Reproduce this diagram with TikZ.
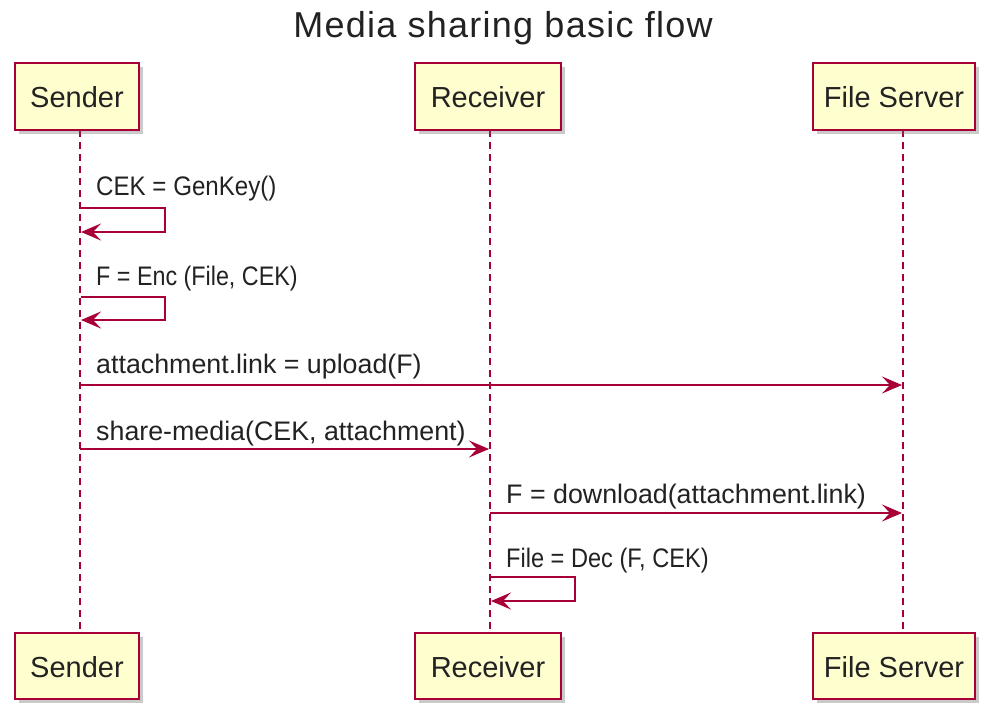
\documentclass[tikz,border=0pt]{standalone}
\usepackage{fontspec}
\setmainfont{Liberation Sans}
\usetikzlibrary{arrows.meta,shadows}
\definecolor{puml}{HTML}{A80036}
\definecolor{pfill}{HTML}{FEFECE}
\definecolor{ptext}{HTML}{222222}
\tikzset{
  actorbox/.style={draw=puml, fill=pfill, line width=1.8pt, rectangle, inner sep=0pt,
    drop shadow={shadow xshift=4pt, shadow yshift=-4pt, opacity=0.35, fill=black!60}},
  actortext/.style={font=\fontsize{29}{31}\selectfont, text=ptext},
  lifeline/.style={draw=puml, line width=1.3pt, dash pattern=on 7pt off 5pt},
  msg/.style={draw=puml, line width=2pt, -{Stealth[length=20pt,width=17pt,inset=8pt]}},
  msgtext/.style={font=\fontsize{26.8}{28}\selectfont, text=ptext, anchor=base west, inner sep=0pt},
  selftext/.style={msgtext},
}
\begin{document}
\begin{tikzpicture}[x=1pt,y=-1pt]
\useasboundingbox (0,0) rectangle (984,705);
% title
\node[font=\fontsize{36}{38}\selectfont\addfontfeature{LetterSpace=3.5}, text=ptext, anchor=base, inner sep=0pt] (title) at (503,37) {Media sharing basic flow};
% lifelines
\coordinate (sT) at (80,130); \coordinate (sB) at (80,633);
\coordinate (rT) at (490,130); \coordinate (rB) at (490,633);
\coordinate (fT) at (903,130); \coordinate (fB) at (903,633);
\draw[lifeline] (sT) -- (sB);
\draw[lifeline] (rT) -- (rB);
\draw[lifeline] (fT) -- (fB);
% actor boxes
\path[actorbox] (15,63) rectangle (139,130);
\path[actorbox] (415,63) rectangle (561,130);
\path[actorbox] (813,63) rectangle (975,130);
\path[actorbox] (15,633) rectangle (139,699);
\path[actorbox] (415,633) rectangle (561,699);
\path[actorbox] (813,633) rectangle (975,699);
\node[actortext] (s1) at (77,97) {Sender};
\node[actortext] (r1) at (488,97) {Receiver};
\node[actortext] (f1) at (894,97) {File Server};
\node[actortext] (s2) at (77,667) {Sender};
\node[actortext] (r2) at (488,667) {Receiver};
\node[actortext] (f2) at (894,667) {File Server};
% messages
\node[selftext] (m1) at (96,195) {\scalebox{0.9}[1]{CEK = GenKey()}};
\coordinate (m1a) at (81,208); \coordinate (m1b) at (165,208);
\coordinate (m1c) at (165,232); \coordinate (m1d) at (81,232);
\draw[msg] (m1a) -- (m1b) -- (m1c) -- (m1d);

\node[selftext] (m2) at (96,285) {\scalebox{0.87}[1]{F = Enc (File, CEK)}};
\coordinate (m2a) at (81,297); \coordinate (m2b) at (165,297);
\coordinate (m2c) at (165,320); \coordinate (m2d) at (81,320);
\draw[msg] (m2a) -- (m2b) -- (m2c) -- (m2d);

\node[msgtext] (m3) at (96,373) {attachment.link = upload(F)};
\coordinate (m3a) at (80,385); \coordinate (m3b) at (902,385);
\draw[msg] (m3a) -- (m3b);

\node[msgtext] (m4) at (96,440) {share-media(CEK, attachment)};
\coordinate (m4a) at (80,449); \coordinate (m4b) at (489,449);
\draw[msg] (m4a) -- (m4b);

\node[msgtext] (m5) at (506,503) {F = download(attachment.link)};
\coordinate (m5a) at (490,513); \coordinate (m5b) at (902,513);
\draw[msg] (m5a) -- (m5b);

\node[selftext] (m6) at (506,567) {\scalebox{0.88}[1]{File = Dec (F, CEK)}};
\coordinate (m6a) at (491,577); \coordinate (m6b) at (575,577);
\coordinate (m6c) at (575,601); \coordinate (m6d) at (491,601);
\draw[msg] (m6a) -- (m6b) -- (m6c) -- (m6d);
\end{tikzpicture}
\end{document}
